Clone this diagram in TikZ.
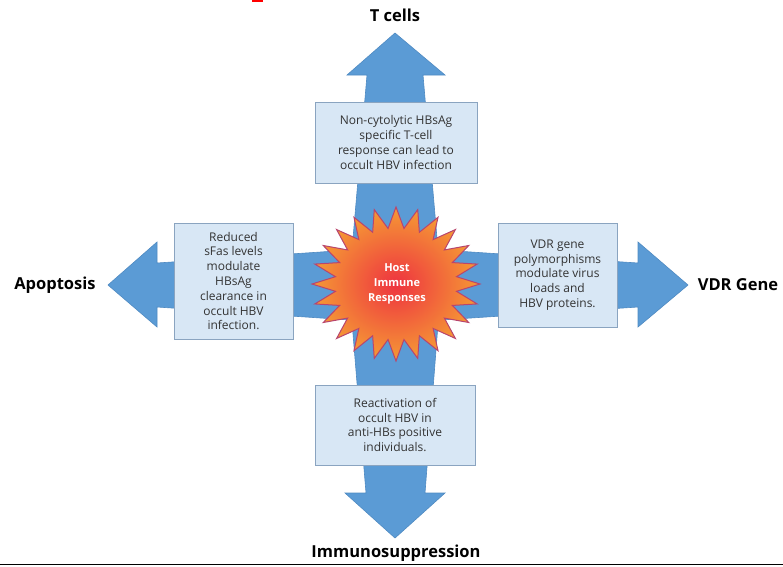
\documentclass[tikz,border=0pt]{standalone}
\usepackage{fontspec}
\setmainfont{Open Sans}
\definecolor{arrowblue}{HTML}{5B9BD5}
\definecolor{arrowedge}{HTML}{4F8AC2}
\definecolor{boxfill}{HTML}{D8E7F5}
\definecolor{boxedge}{HTML}{8AA4C0}
\definecolor{boxtext}{HTML}{333333}
\definecolor{starred}{HTML}{EE3340}
\definecolor{starorange}{HTML}{F59A35}
\definecolor{staredge}{HTML}{B8456E}
\begin{document}
\begin{tikzpicture}[x=1pt,y=-1pt,
  blockarrow/.style={fill=arrowblue, draw=arrowedge, line width=0.6pt, line join=miter},
  infobox/.style={draw=boxedge, fill=boxfill, line width=1pt, text=boxtext,
    font=\fontsize{12}{14.8}\selectfont, align=center, inner sep=0pt},
  biglabel/.style={font=\fontsize{16.5}{19}\selectfont\bfseries, text=black, inner sep=0pt}
]
\useasboundingbox (0,0) rectangle (783,566);
% block arrows
\draw[blockarrow] (349,285) -- (367,75) -- (347,75) -- (395,33) -- (445,75) -- (423,75) -- (441,285) -- cycle;
\draw[blockarrow] (349,285) -- (366,493) -- (345,493) -- (395,538) -- (445,493) -- (425,493) -- (441,285) -- cycle;
\draw[blockarrow] (395,247) -- (157,263) -- (157,242) -- (108,285) -- (157,327) -- (157,307) -- (395,323) -- cycle;
\draw[blockarrow] (395,247) -- (638,263) -- (638,242) -- (688,285) -- (638,327) -- (638,307) -- (395,323) -- cycle;
% boxes
\node[infobox, minimum width=162pt, minimum height=81pt] (tbox) at (396,142.5)
  {Non-cytolytic HBsAg\\specific T-cell\\response can lead to\\occult HBV infection};
\node[infobox, minimum width=119pt, minimum height=116pt] (lbox) at (233.5,281)
  {Reduced\\sFas levels\\modulate\\HBsAg\\clearance in\\occult HBV\\infection.};
\node[infobox, minimum width=119pt, minimum height=104pt] (rbox) at (557.5,275)
  {VDR gene\\polymorphisms\\modulate virus\\loads and\\HBV proteins.};
\node[infobox, minimum width=160pt, minimum height=80pt] (bbox) at (395,425)
  {Reactivation of\\occult HBV in\\anti-HBs positive\\individuals.};
% star
\shadedraw[inner color=starred, outer color=starorange, draw=staredge, line width=1pt]
  plot[samples at={0,...,47}, variable=\k]
  ({396+((1-mod(\k,2))*84+mod(\k,2)*61)*cos(90+\k*7.5)},
   {284-((1-mod(\k,2))*77+mod(\k,2)*56)*sin(90+\k*7.5)}) -- cycle;
\node[font=\fontsize{11}{15}\selectfont\bfseries, text=white, align=center, inner sep=0pt] (host) at (397,284)
  {Host\\Immune\\Responses};
% labels
\node[biglabel] (tcells) at (395,15) {T cells};
\node[biglabel] (apop) at (55,285) {Apoptosis};
\node[biglabel] (vdr) at (738,285) {VDR Gene};
\node[biglabel] (immuno) at (396,553) {Immunosuppression};
% bottom rule and cropped red fragment
\draw[line width=1.5pt] (0,564.5) -- (783,564.5);
\fill[red] (252,0) rectangle (263,1.8);
\end{tikzpicture}
\end{document}
